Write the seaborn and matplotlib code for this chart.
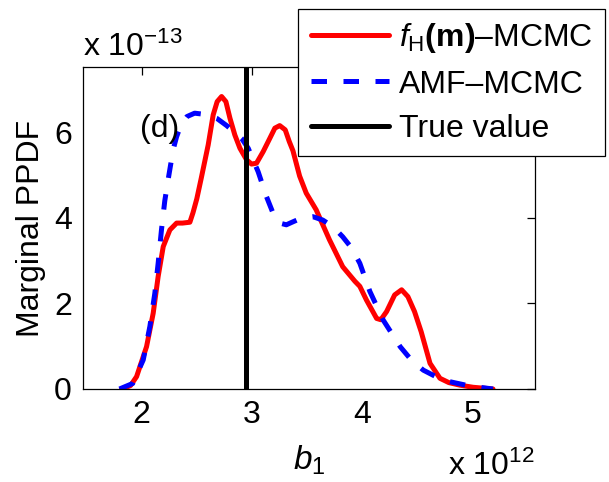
import matplotlib
matplotlib.use("Agg")
import matplotlib.pyplot as plt
import seaborn as sns
import pandas as pd

# ---- data (x in units of 1e12, y in units of 1e-13) ----
red_x = [1.82, 1.90, 1.955, 2.045, 2.105, 2.15, 2.196, 2.256, 2.317, 2.37, 2.437, 2.465, 2.50,
         2.54, 2.603, 2.648, 2.684, 2.724, 2.763, 2.80, 2.844, 2.89, 2.95, 2.995, 3.04, 3.10,
         3.16, 3.206, 3.25, 3.30, 3.336, 3.37, 3.43, 3.49, 3.58, 3.70, 3.82, 3.93, 3.975, 4.035,
         4.127, 4.165, 4.217, 4.29, 4.353, 4.41, 4.47, 4.53, 4.61, 4.70, 4.78, 4.88, 5.0, 5.18]
red_y = [0.0, 0.08, 0.29, 0.99, 1.77, 2.63, 3.33, 3.72, 3.88, 3.88, 3.90, 4.12, 4.45,
         4.93, 5.71, 6.41, 6.72, 6.84, 6.72, 6.33, 5.94, 5.63, 5.36, 5.26, 5.28, 5.55,
         5.86, 6.10, 6.16, 6.06, 5.79, 5.57, 4.98, 4.58, 4.19, 3.49, 2.86, 2.52, 2.40, 2.08,
         1.65, 1.62, 1.81, 2.20, 2.32, 2.16, 1.81, 1.34, 0.60, 0.25, 0.15, 0.09, 0.04, 0.0]

blue_x = [1.80, 1.92, 2.015, 2.075, 2.12, 2.15, 2.18, 2.21, 2.24, 2.286, 2.317, 2.36, 2.41, 2.48,
          2.58, 2.68, 2.77, 2.905, 2.965, 3.055, 3.13, 3.19, 3.25, 3.31, 3.37, 3.45, 3.55, 3.64,
          3.73, 3.82, 3.90, 3.975, 4.066, 4.187, 4.34, 4.45, 4.55, 4.67, 4.79, 4.97, 5.18]
blue_y = [0.0, 0.13, 0.68, 1.46, 2.24, 2.94, 3.72, 4.40, 4.89, 5.60, 5.90, 6.20, 6.37, 6.45,
          6.42, 6.33, 6.16, 5.86, 5.63, 5.08, 4.50, 4.11, 3.88, 3.84, 3.91, 4.00, 4.03, 3.95,
          3.80, 3.56, 3.30, 2.94, 2.28, 1.61, 0.99, 0.65, 0.44, 0.28, 0.17, 0.07, 0.0]

true_value = 2.946

series_labels = [r"$f_{\mathrm{H}}\mathbf{(m)}$–MCMC", "AMF–MCMC", "True value"]
x_ticks = [2, 3, 4, 5]
y_ticks = [0, 2, 4, 6]

sns.set_theme(style="white")
plt.rcParams["font.family"] = ["Liberation Sans", "DejaVu Sans"]
plt.rcParams["mathtext.fontset"] = "custom"
plt.rcParams["mathtext.rm"] = "Liberation Sans"
plt.rcParams["mathtext.it"] = "Liberation Sans:italic"
plt.rcParams["mathtext.bf"] = "Liberation Sans:bold"
for k in ["text.color", "axes.labelcolor", "xtick.color", "ytick.color", "axes.edgecolor"]:
    plt.rcParams[k] = "black"

FS = 23

fig = plt.figure(figsize=(6.09, 4.82), dpi=100)
ax = fig.add_axes([83 / 609, 1 - 389 / 482, (535 - 83) / 609, (389 - 67) / 482])

df_red = pd.DataFrame({"x": red_x, "y": red_y})
df_blue = pd.DataFrame({"x": blue_x, "y": blue_y})

sns.lineplot(data=df_red, x="x", y="y", ax=ax, color="#ff0000", lw=3.6,
             estimator=None, sort=False, label=series_labels[0])
sns.lineplot(data=df_blue, x="x", y="y", ax=ax, color="#0000ff", lw=3.6,
             estimator=None, sort=False, label=series_labels[1], dashes=False)
ax.lines[-1].set_dashes((3.1, 3.3))
for ln in ax.lines:
    ln.set_solid_joinstyle("round")
    ln.set_dash_joinstyle("round")
ax.axvline(true_value, color="black", lw=3.6, label=series_labels[2])

ax.set_xlim(1.47, 5.56)
ax.set_ylim(0, 7.53)
ax.set_xticks(x_ticks)
ax.set_yticks(y_ticks)
ax.set_xticklabels([str(t) for t in x_ticks])
ax.set_yticklabels([str(t) for t in y_ticks])
ax.tick_params(direction="in", length=6, width=0.9, top=True, right=True,
               labelsize=FS, colors="black", pad=8)
for s in ax.spines.values():
    s.set_visible(True)
    s.set_color("black")
    s.set_linewidth(0.9)

ax.set_xlabel(r"$b_1$", fontsize=FS + 1, labelpad=10)
ax.set_ylabel("Marginal PPDF", fontsize=FS, labelpad=6)

ax.text(1.985, 6.08, "(d)", fontsize=FS, ha="left", va="center")

fig.text(83 / 609, 1 - 56 / 482, r"x 10$^{-13}$", fontsize=FS, ha="left", va="baseline")
fig.text(535 / 609, 1 - 475 / 482, r"x 10$^{12}$", fontsize=FS, ha="right", va="baseline")

leg = ax.legend(loc="upper right", bbox_to_anchor=(605 / 609, 1 - 9 / 482),
                bbox_transform=fig.transFigure, fontsize=FS, frameon=True,
                fancybox=False, framealpha=1, edgecolor="black",
                handlelength=2.45, handletextpad=0.32, labelspacing=0.45,
                borderpad=0.38, borderaxespad=0)
leg.get_frame().set_linewidth(0.9)

fig.savefig("out.png", dpi=100)
